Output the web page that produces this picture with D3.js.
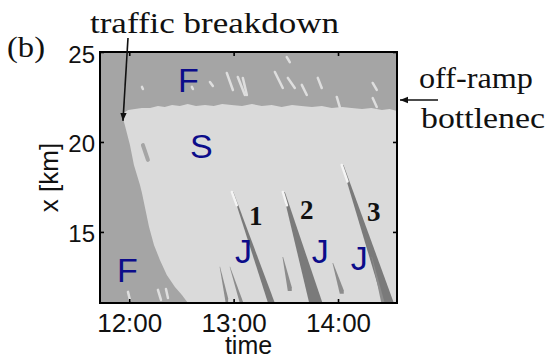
<!DOCTYPE html>
<html>
<head>
<meta charset="utf-8">
<script src="https://cdn.jsdelivr.net/npm/d3@7"></script>
<style>
  html, body { margin: 0; padding: 0; background: #fff; }
  svg { display: block; }
</style>
</head>
<body>
<div id="chart"></div>
<script>
// Spatiotemporal traffic pattern: time in hours, position x in km.
const timeTicks = [12, 13, 14];
const kmTicks = [15, 20, 25];

// upper edge of the synchronized region, pinned at the off-ramp bottleneck
const frontTime = [11.93, 11.99, 12.055, 12.12, 12.2, 12.275, 12.34, 12.41, 12.485, 12.56, 12.64,
  12.725, 12.81, 12.89, 12.98, 13.08, 13.175, 13.27, 13.365, 13.46, 13.56, 13.65, 13.75,
  13.845, 13.94, 14.04, 14.13, 14.23, 14.32, 14.42, 14.495, 14.565];
const frontKm = [21.56, 21.78, 21.83, 21.89, 21.89, 22.0, 21.94, 22.05, 22.0, 22.11, 22.0,
  22.06, 22.0, 22.11, 22.06, 22.0, 22.11, 22.0, 22.06, 21.94, 22.06, 22.0, 21.94,
  22.0, 21.89, 21.94, 21.89, 21.83, 21.89, 21.78, 21.83, 21.72];

// upstream edge of the synchronized region after the breakdown
const edgeTime = [11.93, 11.97, 12.007, 12.045, 12.103, 12.122, 12.16, 12.19, 12.237, 12.294, 12.36, 12.438, 12.505, 12.562];
const edgeKm = [21.56, 20.67, 19.83, 18.72, 17.61, 17.17, 16.11, 15.28, 14.28, 13.44, 12.61, 11.94, 11.5, 11.05];

// wide moving jams (first three) and narrow ones: head, tail, tail width in hours
const jamTopTime = [12.993, 13.481, 14.045, 12.868, 12.964, 13.471, 13.95, 14.323];
const jamTopKm = [17.22, 17.22, 18.72, 13.06, 13.06, 13.61, 13.28, 13.61];
const jamBottomTime = [13.385, 13.806, 14.505, 12.935, 13.079, 13.538, 14.036, 14.447];
const jamBottomKm = [11.06, 11.06, 11.06, 11.61, 11.39, 12.22, 12.06, 11.06];
const jamWidth = [0.057, 0.124, 0.096, 0.025, 0.025, 0.038, 0.038, 0.028];

// small free-flow spot inside the synchronized region
const spotTime = [12.131, 12.179];
const spotKm = [19.83, 19.0];

// light specks inside the free-flow regions
const speckT0 = [12.122, 12.6, 12.773, 12.935, 13.04, 13.088, 13.395, 13.519, 13.653, 13.806, 13.988, 14.332, 14.332, 13.509, 11.988, 12.275, 12.352];
const speckK0 = [23.06, 23.06, 23.33, 23.83, 23.61, 23.56, 23.89, 23.56, 23.17, 23.56, 22.5, 23.28, 22.44, 24.72, 11.67, 11.78, 11.83];
const speckT1 = [12.131, 12.61, 12.801, 12.993, 13.108, 13.127, 13.471, 13.586, 13.701, 13.844, 14.017, 14.371, 14.371, 13.538, 12.007, 12.304, 12.371];
const speckK1 = [22.94, 22.94, 23.11, 22.89, 22.61, 22.61, 23.0, 23.0, 22.61, 23.0, 21.94, 22.89, 21.94, 24.44, 11.22, 11.22, 11.33];

// phase labels and jam numbers, anchored in data space
const phaseText = ["F", "S", "F", "J", "J", "J"];
const phaseTime = [12.466, 12.581, 11.883, 13.012, 13.749, 14.122];
const phaseKm = [22.78, 19.11, 12.22, 13.28, 13.28, 12.89];
const jamNumber = ["1", "2", "3"];
const jamNumberTime = [13.213, 13.701, 14.342];
const jamNumberKm = [15.39, 15.72, 15.61];

const W = 552, H = 360;
const m = { top: 52, right: 155, bottom: 57, left: 100 };
const serif = "'Liberation Serif', 'Times New Roman', serif";
const sans = "'Liberation Sans', Arial, sans-serif";
const cFree = "#a5a5a5", cSync = "#dadada", cJam = "#7a7a7a";

const svg = d3.select("#chart").append("svg")
  .attr("width", W).attr("height", H).attr("viewBox", `0 0 ${W} ${H}`);

const x = d3.scaleLinear().domain([11.72, 14.565]).range([m.left, W - m.right]);
const y = d3.scaleLinear().domain([11.05, 25]).range([H - m.bottom, m.top]);
const [t0, t1] = x.domain();
const [k0, k1] = y.domain();

svg.append("defs").append("clipPath").attr("id", "plot")
  .append("rect").attr("x", x(t0)).attr("y", y(k1))
  .attr("width", x(t1) - x(t0)).attr("height", y(k0) - y(k1));

const g = svg.append("g").attr("clip-path", "url(#plot)");

// free flow everywhere first
g.append("rect").attr("x", x(t0)).attr("y", y(k1))
  .attr("width", x(t1) - x(t0)).attr("height", y(k0) - y(k1)).attr("fill", cFree);

// synchronized region
const front = frontTime.map((t, i) => [t, frontKm[i]]);
const edge = edgeTime.map((t, i) => [t, edgeKm[i]]);
const sync = front.concat([[t1, frontKm[frontKm.length - 1]], [t1, k0]], edge.slice().reverse());
const line = d3.line().x((d) => x(d[0])).y((d) => y(d[1]));
g.append("path").attr("d", line(sync) + "Z").attr("fill", cSync);

g.append("path")
  .attr("d", line(spotTime.map((t, i) => [t, spotKm[i]])))
  .attr("stroke", cFree).attr("stroke-width", 4).attr("stroke-linecap", "round");

// specks
g.selectAll("line.speck").data(speckT0).join("line").attr("class", "speck")
  .attr("x1", (d) => x(d)).attr("y1", (d, i) => y(speckK0[i]))
  .attr("x2", (d, i) => x(speckT1[i])).attr("y2", (d, i) => y(speckK1[i]))
  .attr("stroke", "#dedede").attr("stroke-width", 2.5).attr("stroke-linecap", "round");

// jams: tapered stripes, thin at the head and wide at the tail
const jams = jamTopTime.map((t, i) => ({
  top: [t, jamTopKm[i]], bot: [jamBottomTime[i], jamBottomKm[i]], w: jamWidth[i]
}));
g.selectAll("path.jam").data(jams).join("path").attr("class", "jam")
  .attr("d", (d) => line([
    [d.top[0] - d.w * 0.08, d.top[1]], [d.top[0] + d.w * 0.08, d.top[1]],
    [d.bot[0] + d.w / 2, d.bot[1] - 0.3], [d.bot[0] + d.w / 2, d.bot[1] - 0.5],
    [d.bot[0] - d.w / 2, d.bot[1] - 0.5]
  ]) + "Z")
  .attr("fill", (d, i) => (i < 3 ? cJam : "#8c8c8c"));

// whitish head of the wide jams
g.selectAll("line.tip").data(jams.slice(0, 3)).join("line").attr("class", "tip")
  .attr("x1", (d) => x(d.top[0]) - 1).attr("y1", (d) => y(d.top[1]))
  .attr("x2", (d) => x(d.top[0] + (d.bot[0] - d.top[0]) * 0.12) - 1)
  .attr("y2", (d) => y(d.top[1] + (d.bot[1] - d.top[1]) * 0.12))
  .attr("stroke", "#f4f4f4").attr("stroke-width", 2.5).attr("stroke-linecap", "round");

// axes with inward ticks on all four sides
function style(a) {
  a.select(".domain").remove();
  a.selectAll(".tick line").attr("stroke", "#000").attr("stroke-width", 1.6);
}
svg.append("g").attr("transform", `translate(0,${y(k0)})`)
  .call(d3.axisBottom(x).tickValues(timeTicks).tickSize(-4).tickFormat((d) => d + ":00"))
  .call(style)
  .call((a) => a.selectAll("text").attr("y", 29).attr("dy", 0)
    .attr("font-family", sans).attr("font-size", 26).attr("fill", "#111"));
svg.append("g").attr("transform", `translate(0,${y(k1)})`)
  .call(d3.axisTop(x).tickValues(timeTicks).tickSize(-4).tickFormat(""))
  .call(style);
svg.append("g").attr("transform", `translate(${x(t0)},0)`)
  .call(d3.axisLeft(y).tickValues(kmTicks).tickSize(-4))
  .call(style)
  .call((a) => a.selectAll("text").attr("x", -5).attr("y", 10).attr("dy", 0)
    .attr("font-family", sans).attr("font-size", 24).attr("fill", "#111"));
svg.append("g").attr("transform", `translate(${x(t1)},0)`)
  .call(d3.axisRight(y).tickValues(kmTicks).tickSize(-4).tickFormat(""))
  .call(style);

svg.append("rect").attr("x", x(t0)).attr("y", y(k1))
  .attr("width", x(t1) - x(t0)).attr("height", y(k0) - y(k1))
  .attr("fill", "none").attr("stroke", "#000").attr("stroke-width", 2);

// axis titles
svg.append("text").attr("x", (x(t0) + x(t1)) / 2).attr("y", 354)
  .attr("text-anchor", "middle").attr("font-family", sans).attr("font-size", 25)
  .attr("fill", "#111").text("time");
svg.append("text").attr("transform", `translate(58,${(y(k0) + y(k1)) / 2}) rotate(-90)`)
  .attr("text-anchor", "middle").attr("font-family", sans).attr("font-size", 26)
  .attr("fill", "#111").text("x [km]");

// phase letters and jam numbers
svg.selectAll("text.phase").data(phaseText).join("text").attr("class", "phase")
  .attr("x", (d, i) => x(phaseTime[i])).attr("y", (d, i) => y(phaseKm[i]))
  .attr("font-family", sans).attr("font-size", 34).attr("fill", "#0c0c8a").text((d) => d);
svg.selectAll("text.num").data(jamNumber).join("text").attr("class", "num")
  .attr("x", (d, i) => x(jamNumberTime[i])).attr("y", (d, i) => y(jamNumberKm[i]))
  .attr("text-anchor", "middle").attr("font-family", serif).attr("font-weight", "bold")
  .attr("font-size", 27).attr("fill", "#111").text((d) => d);

// annotations
const ann = [
  { t: "(b)", x: 7, y: 57, len: 38, size: 30 },
  { t: "traffic breakdown", x: 90, y: 33, len: 249, size: 29 },
  { t: "off-ramp", x: 419, y: 88, len: 114, size: 29 },
  { t: "bottlenec", x: 421, y: 128, len: 124, size: 29 }
];
svg.selectAll("text.ann").data(ann).join("text").attr("class", "ann")
  .attr("x", (d) => d.x).attr("y", (d) => d.y)
  .attr("textLength", (d) => d.len).attr("lengthAdjust", "spacingAndGlyphs")
  .attr("font-family", serif).attr("font-size", (d) => d.size).attr("fill", "#111")
  .text((d) => d.t);

svg.select("defs").append("marker").attr("id", "head")
  .attr("viewBox", "0 0 10 10").attr("refX", 10).attr("refY", 5)
  .attr("markerWidth", 5).attr("markerHeight", 5).attr("orient", "auto")
  .append("path").attr("d", "M0,1 L10,5 L0,9 Z").attr("fill", "#111");

svg.append("line").attr("x1", 128).attr("y1", 38)
  .attr("x2", x(11.94)).attr("y2", y(21.17))
  .attr("stroke", "#111").attr("stroke-width", 1.6).attr("marker-end", "url(#head)");
svg.append("line").attr("x1", 438).attr("y1", y(22.33))
  .attr("x2", x(t1) + 3).attr("y2", y(22.33))
  .attr("stroke", "#111").attr("stroke-width", 1.6).attr("marker-end", "url(#head)");
</script>
</body>
</html>
